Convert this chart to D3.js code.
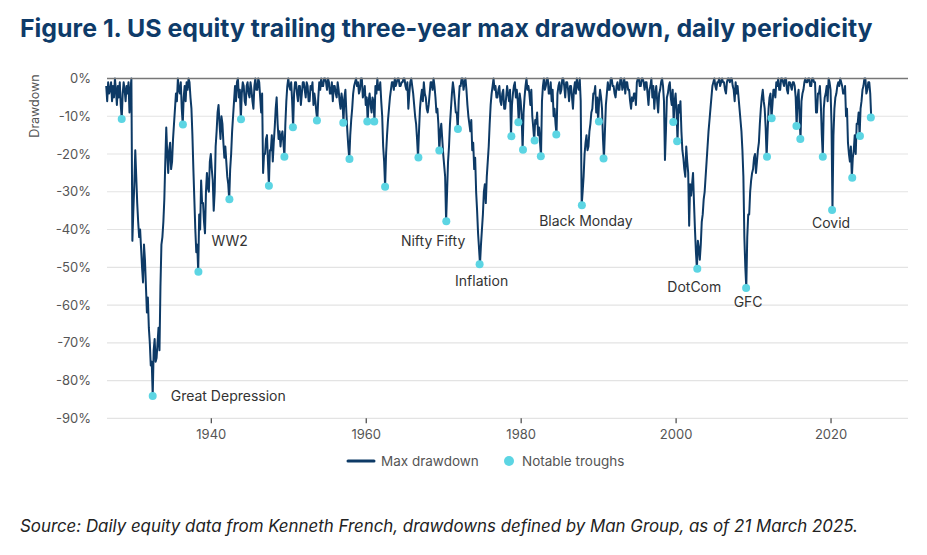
<!DOCTYPE html>
<html>
<head>
<meta charset="utf-8">
<script src="https://cdn.jsdelivr.net/npm/d3@7"></script>
<style>
  body { margin: 0; background: #fff; }
  svg { display: block; font-family: Inter, "Noto Sans", sans-serif; }
</style>
</head>
<body>
<svg id="chart" width="927" height="555"></svg>
<script>
// DATA
const startYear = 1926.5;
const stepYears = 0.125;
// max drawdown (%) every 1/8 year
const drawdown = [
  -2, -6, -1, -4,                                 // 1926 (H2)
  -3, -1, -6, -2, -5, 0, -3, -7,                  // 1927
  -2, -5, -1, -7, -10.7, -4, -1, -3,              // 1928
  -6, -2, -4, -1, -9, -3, 0, -43,                 // 1929
  -35, -28, -19, -26, -33, -38, -42, -40,         // 1930
  -45, -50, -54, -44, -48, -55, -62, -58,         // 1931
  -66, -70, -76, -75, -84.1, -72, -69, -75,       // 1932
  -74, -70, -66, -72, -55, -44, -42, -38,         // 1933
  -32, -22, -13, -20, -25, -19, -17, -24,         // 1934
  -22, -16, -12, -8, -4, -6, 0, -3,               // 1935
  -4, -1, -8, -12.2, -5, -2, -6, -1,              // 1936
  -3, 0, -1, -5, -8, -15, -24, -32,               // 1937
  -40, -46, -44, -51.2, -36, -40, -27, -33,       // 1938
  -33, -38, -41, -30, -25, -29, -30, -22,         // 1939
  -20, -24, -27, -35, -30, -18, -14, -9,          // 1940
  -7, -12, -16, -10, -12, -17, -21, -18,          // 1941
  -22, -26, -28, -32, -24, -20, -14, -10,         // 1942
  -6, -2, -6, -1, 0, -5, -3, -10.8,               // 1943
  -4, -1, -2, -6, -7, -2, -1, -4,                 // 1944
  -5, -1, -3, -6, -8, -2, 0, -3,                  // 1945
  -3, 0, -1, -5, -9, -4, -25, -20,                // 1946
  -20, -16, -15, -22, -28.4, -19, -19, -15,       // 1947
  -22, -17, -13, -8, -5, -12, -16, -14,           // 1948
  -18, -15, -14, -17, -20.7, -12, -6, -2,         // 1949
  0, -2, -3, -1, -6, -12.9, -4, -1,               // 1950
  -1, -4, -6, -2, -2, -7, -4, -1,                 // 1951
  -1, -3, -5, -1, -2, -6, -6, -2,                 // 1952
  -3, -1, -7, -4, -6, -9, -11.1, -5,              // 1953
  -1, -3, 0, -2, -2, 0, 0, -1,                    // 1954
  -3, 0, -1, -4, -4, -1, -6, -2,                  // 1955
  -2, -4, -5, -1, -3, -6, -8, -4,                 // 1956
  -6, -11.7, -5, -3, -9, -14, -18, -21.3,         // 1957
  -15, -11, -8, -4, -2, -1, 0, -2,                // 1958
  -1, -4, -3, 0, 0, -5, -4, -2,                   // 1959
  -7, -5, -11.4, -6, -4, -7, -9, -5,              // 1960
  -6, -11.4, -2, -4, 0, -3, -3, -1,               // 1961
  -6, -10, -18, -22, -28.7, -20, -15, -11,        // 1962
  -8, -5, -3, -1, -1, -3, 0, -2,                  // 1963
  -1, 0, 0, -2, -2, -1, -1, 0,                    // 1964
  0, -2, -3, -1, -8, -4, -1, 0,                   // 1965
  -2, -4, -7, -10, -12, -16, -20.9, -14,          // 1966
  -8, -5, -3, -6, -1, -4, -5, -8,                 // 1967
  -9, -7, -4, -1, -1, -3, 0, -2,                  // 1968
  -5, -9, -8, -12, -19.1, -14, -12, -16,          // 1969
  -20, -23, -26, -37.8, -30, -22, -18, -12,       // 1970
  -8, -4, -1, -3, -6, -9, -9, -13.4,              // 1971
  -6, -2, -2, 0, 0, -3, -1, 0,                    // 1972
  -3, -7, -10, -12, -14, -11, -19, -17,           // 1973
  -24, -21, -30, -35, -41, -45, -49.2, -44,       // 1974
  -40, -36, -30, -28, -33, -26, -22, -18,         // 1975
  -12, -7, -4, -2, 0, -3, -2, -5,                 // 1976
  -5, -3, -2, -6, -7, -4, -3, -8,                 // 1977
  -8, -5, -2, -4, -6, -3, -15.3, -7,              // 1978
  -4, -2, -1, -5, -3, -6, -11.6, -4,              // 1979
  -6, -10, -18.9, -9, -5, -2, 0, -3,              // 1980
  -2, -4, -7, -3, -10, -13, -16.4, -11,           // 1981
  -12, -9, -15, -13, -17, -20.6, -6, -2,          // 1982
  0, -3, -2, 0, 0, -4, -4, -1,                    // 1983
  -6, -3, -10, -8, -12, -14.8, -4, -2,            // 1984
  -1, -4, -3, 0, 0, -2, -5, -1,                   // 1985
  -1, -3, -6, -2, -2, -5, -8, -3,                 // 1986
  -1, -4, 0, -2, -3, 0, -6, -33.6,                // 1987
  -30, -26, -20, -17, -15, -19, -18, -14,         // 1988
  -12, -9, -8, -4, -4, -2, -9, -5,                // 1989
  -11.4, -6, -3, -5, -8, -16, -21.2, -14,         // 1990
  -7, -4, -1, -3, -3, 0, 0, -2,                   // 1991
  -2, -4, -5, -2, -1, -3, -3, 0,                  // 1992
  0, -3, -2, 0, -4, -1, -1, -3,                   // 1993
  -3, -6, -8, -5, -6, -4, -4, -7,                 // 1994
  -1, 0, 0, -2, -2, 0, 0, -1,                     // 1995
  -3, -1, -1, -4, -7, -3, -2, 0,                  // 1996
  -5, -2, -8, -4, -2, -6, -9, -4,                 // 1997
  -3, -1, 0, -2, -6, -21.6, -14, -5,              // 1998
  -4, -2, -1, -5, -7, -3, -11.5, -6,              // 1999
  -4, -9, -16.6, -7, -9, -6, -14, -19,            // 2000
  -21, -24, -26, -18, -22, -25, -39, -28,         // 2001
  -31, -28, -25, -33, -40, -46, -50.4, -43,       // 2002
  -45, -48, -44, -38, -36, -32, -30, -26,         // 2003
  -22, -18, -14, -11, -8, -5, -2, -1,             // 2004
  0, -2, -3, -1, -1, 0, -2, -1,                   // 2005
  0, -1, -1, -3, -4, -1, 0, 0,                    // 2006
  -1, 0, 0, -2, -3, -6, -1, -4,                   // 2007
  -2, -5, -8, -11, -14, -19, -26, -42,            // 2008
  -50, -55.5, -42, -36, -36, -30, -27, -25,       // 2009
  -24, -21, -20, -25, -22, -19, -17, -12,         // 2010
  -8, -5, -3, -6, -8, -13, -20.7, -14,            // 2011
  -8, -5, -4, -10.5, -7, -3, -3, -5,              // 2012
  -1, -2, 0, -3, -3, 0, 0, -1,                    // 2013
  -2, 0, 0, -3, -4, -1, -1, -2,                   // 2014
  -3, -1, -1, -2, -5, -12.6, -5, -3,              // 2015
  -10, -16, -6, -4, -3, -1, 0, -1,                // 2016
  -1, 0, 0, -2, -2, 0, 0, -1,                     // 2017
  -1, -9, -9, -4, -4, -2, -7, -15,                // 2018
  -20.7, -8, -5, -4, -2, -6, 0, -1,               // 2019
  -3, -12, -34.8, -15, -8, -5, -4, -2,            // 2020
  -1, -2, 0, -1, -2, -4, -4, -2,                  // 2021
  -10, -8, -17, -20, -22, -18, -26.3, -21,        // 2022
  -19, -15, -20, -12, -12, -9, -15.2, -8,         // 2023
  -6, -3, -2, 0, 0, -4, -3, -1,                   // 2024
  -1, -4, -10.3                                   // 2025 Q1
];

const troughYears = [
  1928.5, 1932.5, 1936.4, 1938.4, 1942.4, 1943.9, 1947.5, 1949.5, 1950.6, 1953.7,
  1957.1, 1957.9, 1960.2, 1961.1, 1962.5, 1966.8, 1969.5, 1970.4, 1971.9, 1974.7,
  1978.8, 1979.7, 1980.3, 1981.8, 1982.6, 1984.6, 1987.9, 1990.1, 1990.7, 1999.7,
  2000.2, 2002.8, 2009.1, 2011.8, 2012.4, 2015.6, 2016.1, 2019.0, 2020.2, 2022.8,
  2023.8, 2025.2
];
const troughValues = [
  -10.7, -84.1, -12.2, -51.2, -32.0, -10.8, -28.4, -20.7, -12.9, -11.1,
  -11.7, -21.3, -11.4, -11.4, -28.7, -20.9, -19.1, -37.8, -13.4, -49.2,
  -15.3, -11.6, -18.9, -16.4, -20.6, -14.8, -33.6, -11.4, -21.2, -11.5,
  -16.6, -50.4, -55.5, -20.7, -10.5, -12.6, -16.0, -20.7, -34.8, -26.3,
  -15.2, -10.3
];

const eventNames = ["Great Depression", "WW2", "Nifty Fifty", "Inflation", "Black Monday", "DotCom", "GFC", "Covid"];
const eventYears = [1932.5, 1938.4, 1970.4, 1974.7, 1987.9, 2002.8, 2009.1, 2020.2];
const eventValues = [-84.1, -51.2, -37.8, -49.2, -33.6, -50.4, -55.5, -34.8];

const xTicks = [1940, 1960, 1980, 2000, 2020];
const yTicks = [0, -10, -20, -30, -40, -50, -60, -70, -80, -90];

// LAYOUT
const margin = { top: 78.5, right: 19, bottom: 136.7, left: 107 };
const W = 927, H = 555;
const lineColor = "#0d3a66", dotColor = "#5cd5e3";

// label placement relative to each trough dot: [dx, dy, anchor]
const labelPlacement = [
  [18, 5, "start"],
  [13, -26, "start"],
  [19, 25, "end"],
  [2, 22, "middle"],
  [4, 21, "middle"],
  [-3, 23, "middle"],
  [2, 19, "middle"],
  [-1, 18, "middle"]
];

const svg = d3.select("#chart");

const x = d3.scaleLinear().domain([1926.6, 2030]).range([margin.left, W - margin.right]);
const y = d3.scaleLinear().domain([0, -90]).range([margin.top, H - margin.bottom]);

// title
const title = svg.append("text")
  .attr("x", 20).attr("y", 37)
  .attr("fill", "#0e3b69")
  .attr("font-weight", 700)
  .attr("font-size", 22)
  .text("Figure 1. US equity trailing three-year max drawdown, daily periodicity");

function fitWidth(sel, target) {
  const w = sel.node().getComputedTextLength();
  const fs = +sel.attr("font-size");
  sel.attr("font-size", (fs * target / w).toFixed(2));
}
fitWidth(title, 853);

// gridlines
svg.append("g")
  .selectAll("line")
  .data(yTicks.filter((d) => d !== 0))
  .join("line")
  .attr("x1", x.range()[0]).attr("x2", x.range()[1])
  .attr("y1", (d) => y(d)).attr("y2", (d) => y(d))
  .attr("stroke", "#e3e3e3")
  .attr("stroke-width", 1.2);

// y axis labels
const yAxis = svg.append("g")
  .attr("transform", `translate(${margin.left},0)`)
  .call(d3.axisLeft(y).tickValues(yTicks).tickSize(0).tickPadding(16).tickFormat((d) => d + "%"));
yAxis.select(".domain").remove();
yAxis.selectAll("text")
  .attr("font-family", "Inter, sans-serif")
  .attr("font-size", 13)
  .attr("fill", "#555");

svg.append("text")
  .attr("transform", "translate(39,106) rotate(-90)")
  .attr("text-anchor", "middle")
  .attr("font-size", 12.5)
  .attr("fill", "#555")
  .text("Drawdown");

// x axis
const xAxis = svg.append("g")
  .attr("transform", `translate(0,${y(-90)})`)
  .call(d3.axisBottom(x).tickValues(xTicks).tickSize(5).tickPadding(6).tickFormat(d3.format("d")));
xAxis.select(".domain").remove();
xAxis.selectAll(".tick line").attr("stroke", "#444").attr("stroke-width", 1.2);
xAxis.selectAll("text")
  .attr("font-family", "Inter, sans-serif")
  .attr("font-size", 13)
  .attr("fill", "#555");

// line
const series = drawdown.map((v, i) => ({ year: startYear + i * stepYears, value: v }));
const line = d3.line().x((d) => x(d.year)).y((d) => y(d.value));

svg.append("path")
  .datum(series)
  .attr("d", line)
  .attr("fill", "none")
  .attr("stroke", lineColor)
  .attr("stroke-width", 2)
  .attr("stroke-linejoin", "round");

// zero line on top
svg.append("line")
  .attr("x1", x.range()[0]).attr("x2", x.range()[1])
  .attr("y1", y(0)).attr("y2", y(0))
  .attr("stroke", "#777")
  .attr("stroke-width", 1.5);

// troughs
svg.append("g")
  .selectAll("circle")
  .data(troughYears.map((yr, i) => ({ year: yr, value: troughValues[i] })))
  .join("circle")
  .attr("cx", (d) => x(d.year))
  .attr("cy", (d) => y(d.value))
  .attr("r", 4)
  .attr("fill", dotColor);

// event labels
svg.append("g")
  .selectAll("text")
  .data(eventNames)
  .join("text")
  .attr("x", (d, i) => x(eventYears[i]) + labelPlacement[i][0])
  .attr("y", (d, i) => y(eventValues[i]) + labelPlacement[i][1])
  .attr("text-anchor", (d, i) => labelPlacement[i][2])
  .attr("font-size", 14)
  .attr("fill", "#333")
  .text((d) => d);

// legend
const legend = svg.append("g").attr("transform", "translate(0,461)");
legend.append("line")
  .attr("x1", 348).attr("x2", 374)
  .attr("stroke", lineColor).attr("stroke-width", 3).attr("stroke-linecap", "round");
legend.append("text")
  .attr("x", 381).attr("y", 5)
  .attr("font-size", 13.5).attr("fill", "#555")
  .text("Max drawdown");
legend.append("circle")
  .attr("cx", 509).attr("r", 5).attr("fill", dotColor);
legend.append("text")
  .attr("x", 522).attr("y", 5)
  .attr("font-size", 13.5).attr("fill", "#555")
  .text("Notable troughs");

// source
const source = svg.append("text")
  .attr("x", 20).attr("y", 532)
  .attr("font-style", "italic")
  .attr("font-size", 15.5)
  .attr("fill", "#222")
  .text("Source: Daily equity data from Kenneth French, drawdowns defined by Man Group, as of 21 March 2025.");
fitWidth(source, 838);
</script>
</body>
</html>
